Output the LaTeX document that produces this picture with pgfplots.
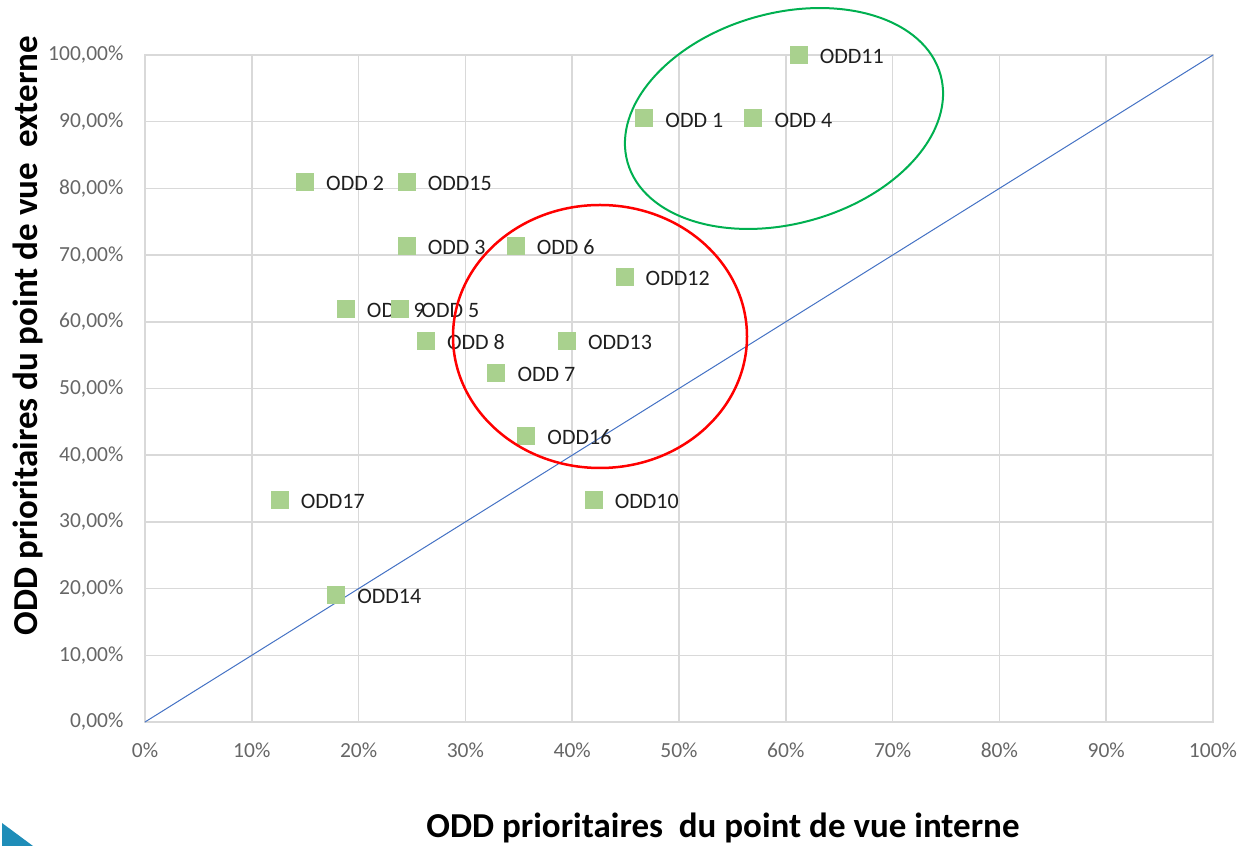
\documentclass[border=0pt]{standalone}
\usepackage{fontspec}
\setmainfont{Carlito}
\usepackage{pgfplots}
\pgfplotsset{compat=1.18}
\definecolor{gridgray}{HTML}{D9D9D9}
\definecolor{ticktext}{HTML}{666666}
\definecolor{markgreen}{HTML}{A9D18E}
\definecolor{diagblue}{HTML}{4472C4}
\definecolor{circgreen}{HTML}{00B050}
\definecolor{circred}{HTML}{FF0000}
\definecolor{cornerblue}{HTML}{1F8DB8}
\pgfdeclareplotmark{rsquare}{%
  \pgfsetcornersarced{\pgfpoint{3pt}{3pt}}%
  \pgfpathmoveto{\pgfpoint{-\pgfplotmarksize}{-\pgfplotmarksize}}%
  \pgfpathlineto{\pgfpoint{\pgfplotmarksize}{-\pgfplotmarksize}}%
  \pgfpathlineto{\pgfpoint{\pgfplotmarksize}{\pgfplotmarksize}}%
  \pgfpathlineto{\pgfpoint{-\pgfplotmarksize}{\pgfplotmarksize}}%
  \pgfpathclose
  \pgfusepathqfill}
\begin{document}
\begin{tikzpicture}[x=1pt,y=1pt]
\useasboundingbox (0,0) rectangle (1248,846);
\begin{axis}[
  at={(145pt,124pt)}, anchor=south west,
  width=1068pt, height=667pt, scale only axis,
  xmin=0, xmax=100, ymin=0, ymax=100,
  xtick={0,10,...,100}, ytick={0,10,...,100},
  xticklabels={0\%,10\%,20\%,30\%,40\%,50\%,60\%,70\%,80\%,90\%,100\%},
  yticklabels={{0,00\%},{10,00\%},{20,00\%},{30,00\%},{40,00\%},{50,00\%},{60,00\%},{70,00\%},{80,00\%},{90,00\%},{100,00\%}},
  major tick length=0pt,
  grid=major,
  grid style={gridgray, line width=1.5pt},
  axis line style={gridgray, line width=1.5pt},
  tick label style={font=\fontsize{21.5}{24}\selectfont, text=ticktext},
  xticklabel style={yshift=-17pt},
  yticklabel style={xshift=-18pt},
  clip=false,
]
\addplot[diagblue, line width=1pt] coordinates {(0,0) (100,100)};
\addplot[only marks, mark=rsquare, mark size=9pt, color=markgreen,
  nodes near coords, point meta=explicit symbolic,
  every node near coord/.style={anchor=west, xshift=21pt, yshift=-1.5pt, inner sep=0pt,
    font=\fontsize{22}{24}\selectfont, text=black!88}]
 table[meta=label] {
 x y label
 61.2 100.0 ODD11
 46.75 90.48 {ODD 1}
 56.96 90.48 {ODD 4}
 14.98 80.95 {ODD 2}
 24.5 80.95 ODD15
 24.5 71.43 {ODD 3}
 34.7 71.43 {ODD 6}
 44.9 66.67 ODD12
 18.8 61.90 {ODD 9}
 23.9 61.90 {ODD 5}
 26.3 57.14 {ODD 8}
 39.5 57.14 ODD13
 32.9 52.38 {ODD 7}
 35.7 42.86 ODD16
 42.0 33.33 ODD10
 12.6 33.33 ODD17
 17.9 19.05 ODD14
 };
\end{axis}
\draw[circgreen, line width=2pt] (784,727.5) [rotate around={15.6:(784,727.5)}] ellipse (162.5 and 105.3);
\draw[circred, line width=2.5pt] (600,509.5) ellipse (147 and 131.5);
\fill[cornerblue] (2,23) -- (2,0) -- (33,0) -- cycle;
\node[rotate=90, anchor=base, font=\bfseries\fontsize{35}{40}\selectfont, inner sep=0pt] at (38,510.5) {ODD prioritaires du point de vue\ \ externe};
\node[anchor=base, font=\bfseries\fontsize{35}{40}\selectfont, inner sep=0pt] at (723,8) {ODD prioritaires\ \ du point de vue interne};
\end{tikzpicture}
\end{document}
